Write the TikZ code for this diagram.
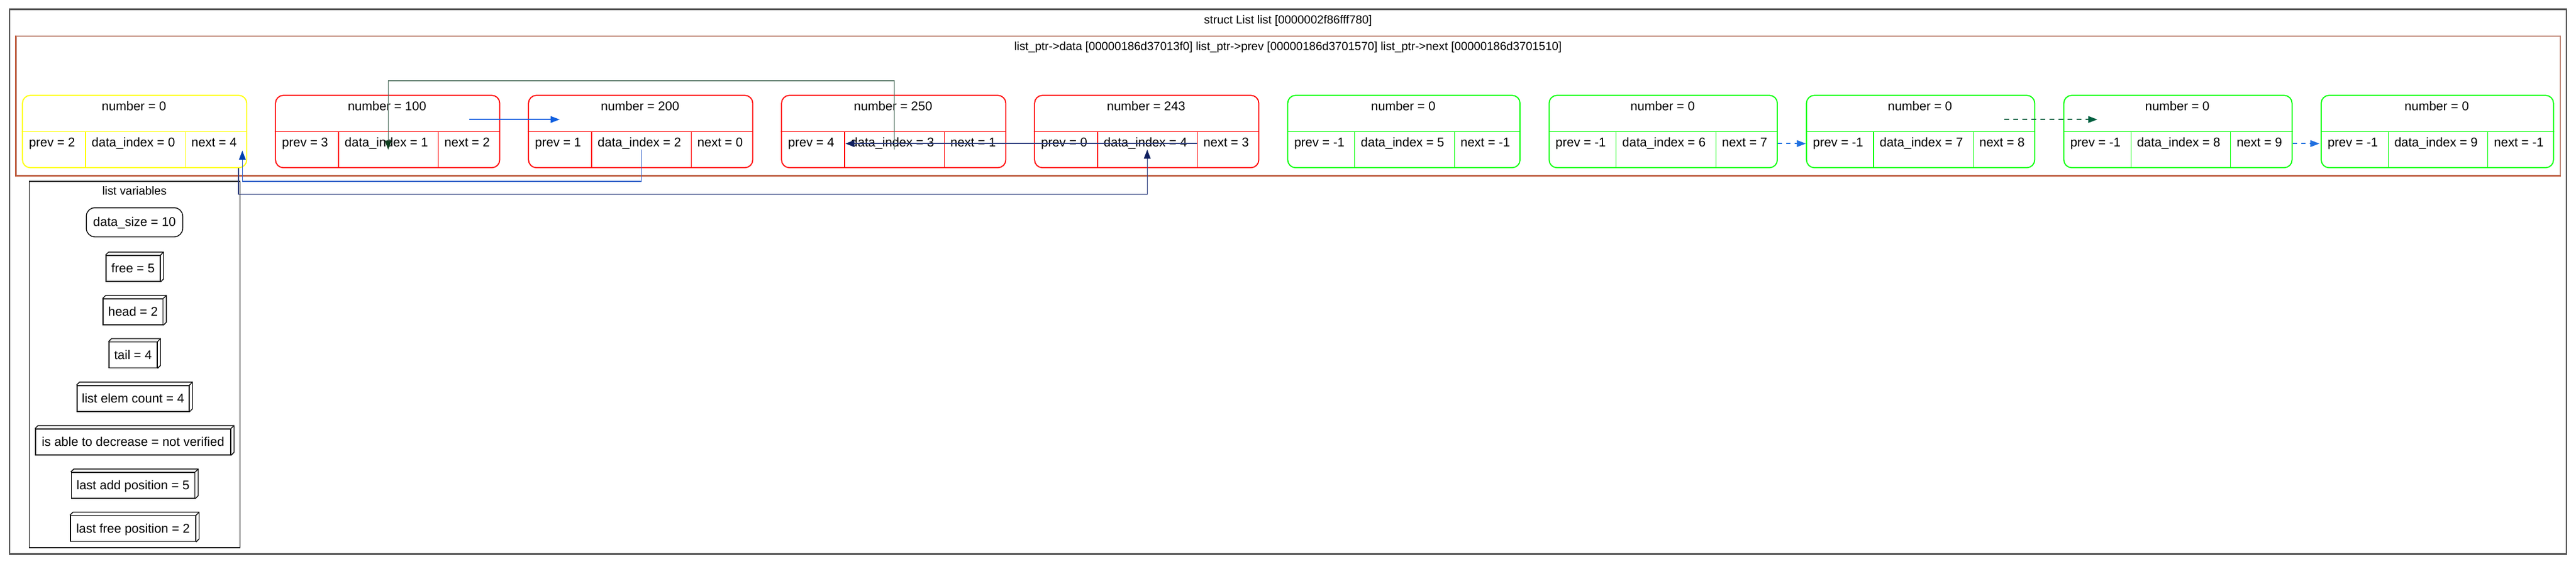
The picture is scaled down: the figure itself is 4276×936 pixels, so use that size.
\documentclass[tikz,border=0pt]{standalone}
\usepackage{fontspec}
\setmainfont{Liberation Sans}
\usetikzlibrary{arrows.meta,calc}
\definecolor{cYel}{RGB}{255,255,0}
\definecolor{cRed}{RGB}{255,0,0}
\definecolor{cGrn}{RGB}{0,255,0}
\definecolor{cOut}{RGB}{80,80,80}
\definecolor{cBrA}{RGB}{192,136,120}
\definecolor{cBrB}{RGB}{192,88,56}
\definecolor{cGl}{RGB}{80,112,96}
\definecolor{cGh}{RGB}{16,64,32}
\definecolor{cBA}{RGB}{16,96,224}
\definecolor{cBBl}{RGB}{48,96,200}
\definecolor{cBBh}{RGB}{0,64,176}
\definecolor{cNl}{RGB}{48,64,128}
\definecolor{cNh}{RGB}{16,32,96}
\definecolor{cDB}{RGB}{32,112,224}
\definecolor{cDG}{RGB}{0,96,64}
\newcommand{\recnode}[9]{%
  \pgfmathsetmacro{\rxb}{#2+#3}%
  \pgfmathsetmacro{\rxc}{#2+#3+165.5}%
  \pgfmathsetmacro{\rxd}{#2+#3+165.5+#4}%
  \pgfmathsetmacro{\rwd}{(\rxd-#2)/2}%
  \pgfmathsetmacro{\rwp}{#3/2}%
  \pgfmathsetmacro{\rwn}{#4/2}%
  \node[recbox, draw=#5, minimum width=\rwd pt] (n#1) at ({(#2+\rxd)/2},218.3) {};
  \node[cellbox, minimum width=\rwd pt] (n#1h) at ({(#2+\rxd)/2},188.3) {};
  \node[cellbox, minimum width=\rwp pt] (n#1p) at ({(#2+\rxb)/2},248.3) {};
  \node[cellbox, minimum width=82.75pt] (n#1d) at ({(\rxb+\rxc)/2},248.3) {};
  \node[cellbox, minimum width=\rwn pt] (n#1n) at ({(\rxc+\rxd)/2},248.3) {};
  \draw[divline, draw=#5] (n#1.west) -- (n#1.east);
  \draw[divline, draw=#5] (n#1p.north east) -- (n#1p.south east);
  \draw[divline, draw=#5] (n#1d.north east) -- (n#1d.south east);
  \node[txt] (n#1ht) at ({(#2+\rxd)/2-1},184) {number = #6};
  \node[txt] (n#1pt) at ({(#2+\rxb)/2-3},244) {prev = #7};
  \node[txt] (n#1dt) at ({(\rxb+\rxc)/2-3},244) {data\_index = #8};
  \node[txt] (n#1nt) at ({(\rxc+\rxd)/2-3},244) {next = #9};
}
\begin{document}
\begin{tikzpicture}[x=0.5pt,y=-0.5pt,
  txt/.style={inner sep=0pt, anchor=base, font=\fontsize{10.5}{12}\selectfont},
  cltxt/.style={inner sep=0pt, anchor=base, font=\fontsize{9.7}{11}\selectfont},
  recbox/.style={rectangle, rounded corners=6.5pt, line width=0.9pt, minimum height=60pt, inner sep=0pt},
  cellbox/.style={rectangle, inner sep=0pt, minimum height=30pt},
  divline/.style={line width=0.6pt},
  var3d/.style={draw=black, line width=0.7pt, rectangle, inner sep=0pt, minimum height=21.5pt,
     font=\fontsize{10.5}{12}\selectfont, text height=7.5pt, text depth=0.5pt},
  edgeG/.style={draw=cGl, line width=0.8pt, -{Triangle[length=7.5pt,width=5.5pt,color=cGh]}},
  edgeBA/.style={draw=cBA, line width=0.8pt, -{Triangle[length=7.5pt,width=5.5pt,color=cBA]}},
  edgeBB/.style={draw=cBBl, line width=0.8pt, -{Triangle[length=7.5pt,width=5.5pt,color=cBBh]}},
  edgeN/.style={draw=cNl, line width=0.8pt, -{Triangle[length=7.5pt,width=5.5pt,color=cNh]}},
  edgeDB/.style={draw=cDB, line width=0.8pt, dash pattern=on 3.5pt off 3.5pt, -{Triangle[length=7.5pt,width=5.5pt,color=cDB]}},
  edgeDG/.style={draw=cDG, line width=0.8pt, dash pattern=on 4pt off 3.5pt, -{Triangle[length=7.5pt,width=5.5pt,color=cDG]}}
]
\useasboundingbox (0,0) rectangle (4276,936);
\fill[white] (0,0) rectangle (4276,936);
% clusters
\node[draw=cOut, line width=1.2pt, rectangle, inner sep=0pt, minimum width=2122.15pt, minimum height=451.9pt] (outer) at (2137.85,467.6) {};
\node[draw=cBrA, line width=1pt, rectangle, inner sep=0pt, minimum width=2111.4pt, minimum height=115.35pt] (datacl) at (2138.1,175.35) {};
\draw[cBrB, line width=1pt] (datacl.north west) -- (datacl.south west) -- (datacl.south east);
\node[draw=black, line width=0.75pt, rectangle, inner sep=0pt, minimum width=175pt, minimum height=303.95pt] (varcl) at (223.3,604.95) {};
% titles
\node[cltxt] (title) at (2138,39.5) {struct List list [0000002f86fff780]};
\node[cltxt] (subtitle) at (2138,83.5) {list\_ptr->data [00000186d37013f0] list\_ptr->prev [00000186d3701570] list\_ptr->next [00000186d3701510]};
\node[cltxt] (vartitle) at (223.3,323.3) {list variables};
% records
\recnode{0}{37.3}{104.3}{102.4}{cYel}{0}{2}{0}{4}
\recnode{1}{457.3}{104.3}{102.4}{cRed}{100}{3}{1}{2}
\recnode{2}{877.3}{104.3}{102.4}{cRed}{200}{1}{2}{0}
\recnode{3}{1297.3}{104.3}{102.4}{cRed}{250}{4}{3}{1}
\recnode{4}{1717.3}{104.3}{102.4}{cRed}{243}{0}{4}{3}
\recnode{5}{2137.5}{110.9}{109.2}{cGrn}{0}{-1}{5}{-1}
\recnode{6}{2571.4}{110.9}{102.4}{cGrn}{0}{-1}{6}{7}
\recnode{7}{2998.6}{110.9}{102.4}{cGrn}{0}{-1}{7}{8}
\recnode{8}{3425.8}{110.9}{102.4}{cGrn}{0}{-1}{8}{9}
\recnode{9}{3853.0}{110.9}{109.2}{cGrn}{0}{-1}{9}{-1}
% list variables
\node[draw=black, line width=0.7pt, rectangle, rounded corners=7pt, inner sep=0pt, minimum width=80pt, minimum height=24.1pt,
  font=\fontsize{10.5}{12}\selectfont, text height=7.5pt, text depth=0.5pt] (vsize) at (223.3,368.9) {data\_size = 10};
\node[var3d, minimum width=45pt] (vfree) at (220.8,445.6) {free = 5};
\node[var3d, minimum width=49.65pt] (vhead) at (220.8,517.5) {head = 2};
\node[var3d, minimum width=40pt] (vtail) at (220.8,589.2) {tail = 4};
\node[var3d, minimum width=93pt] (vcount) at (220.8,661.3) {list elem count = 4};
\node[var3d, minimum width=162pt] (vdec) at (220.8,733.4) {is able to decrease = not verified};
\node[var3d, minimum width=102.5pt] (vadd) at (220.8,805.5) {last add position = 5};
\node[var3d, minimum width=104pt] (vlfree) at (220.8,877.2) {last free position = 2};
\foreach \n in {vfree,vhead,vtail,vcount,vdec,vadd,vlfree}{
  \draw[line width=0.7pt] (\n.north west) -- ++(5,-5) -- ($(\n.north east)+(5,-5)$) -- ($(\n.south east)+(5,-5)$) -- (\n.south east);
  \draw[line width=0.7pt] (\n.north east) -- ++(5,-5);
}
% edges
\coordinate (gy) at (0,134);
\coordinate (by) at (0,301);
\coordinate (ny) at (0,322.3);
\coordinate (cy) at (0,238.3);
\coordinate (bAs) at (778.7,198.3);
\coordinate (bAe) at (929,198.3);
\coordinate (n0in) at (402.3,250);
\coordinate (n0out) at (395.7,279);
\coordinate (n4a) at (1986.7,238.3);
\coordinate (n3a) at (1403.3,238.3);
\coordinate (dGs) at (3327,198.3);
\coordinate (dGe) at (3481.4,198.3);
\draw[edgeG] (n3d.center) -- (n3d.center |- gy) -- (n1d.center |- gy) -- (n1d.center);
\draw[edgeBA] (bAs) -- (bAe);
\draw[edgeBB] (n2d.center) -- (n2d.center |- by) -| (n0in);
\draw[edgeN] (n0out) -- (n0out |- ny) -| (n4d.center);
\draw[edgeN] (n4a) -- (n3a);
\draw[edgeDB] (n6.east |- cy) -- (n7.west |- cy);
\draw[edgeDG] (dGs) -- (dGe);
\draw[edgeDB] (n8.east |- cy) -- ($(n9.west |- cy)+(-2,0)$);
\end{tikzpicture}
\end{document}
